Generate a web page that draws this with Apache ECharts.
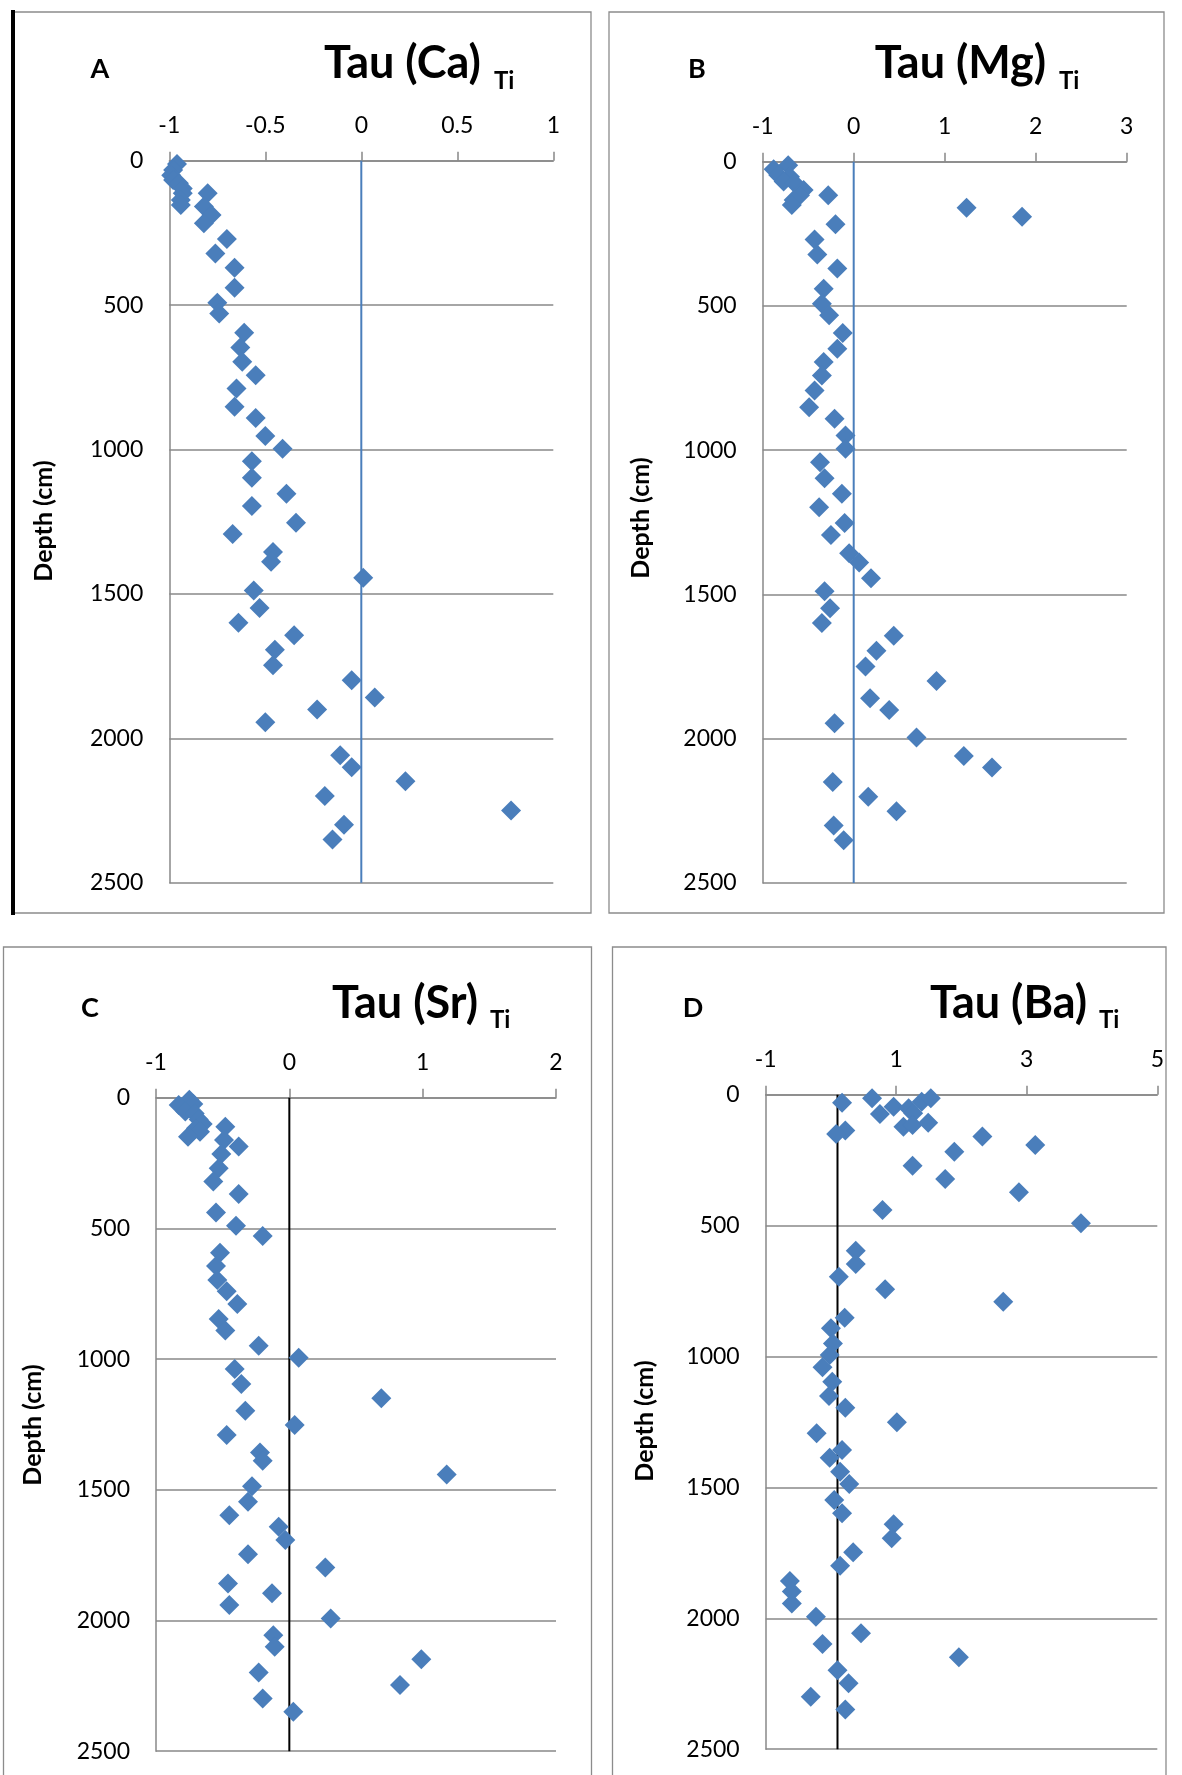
<!DOCTYPE html>
<html>
<head>
<meta charset="utf-8">
<script src="https://cdn.jsdelivr.net/npm/echarts@6/dist/echarts.min.js"></script>
<style>
html,body{margin:0;padding:0;background:#fff;}
#main{width:1182px;height:1775px;}
</style>
</head>
<body>
<div id="main"></div>
<script>
// ---- Data ----
const panelLetters = ['A', 'B', 'C', 'D'];
const panelElements = ['Ca', 'Mg', 'Sr', 'Ba'];
const depthTicks = [0, 500, 1000, 1500, 2000, 2500];
const tauTicksA = [-1, -0.5, 0, 0.5, 1];
const tauTicksB = [-1, 0, 1, 2, 3];
const tauTicksC = [-1, 0, 1, 2];
const tauTicksD = [-1, 1, 3, 5];
const refLineX = [0, 0, 0, 0.1];

const tauA = [-0.96,-0.98,-0.99,-0.98,-0.95,-0.93,-0.93,-0.94,-0.94,-0.80,-0.82,-0.78,-0.82,-0.70,-0.76,-0.66,-0.66,-0.75,-0.74,-0.61,-0.63,-0.62,-0.55,-0.65,-0.66,-0.55,-0.50,-0.41,-0.57,-0.57,-0.39,-0.57,-0.34,-0.67,-0.46,-0.47,0.01,-0.56,-0.53,-0.64,-0.35,-0.45,-0.46,-0.05,0.07,-0.23,-0.50,-0.11,-0.05,0.23,-0.19,0.78,-0.09,-0.15];
const depthA = [11,32,50,67,78,96,113,136,153,113,159,188,217,271,321,371,440,492,529,596,647,696,743,789,852,891,953,997,1041,1098,1153,1196,1254,1293,1355,1389,1444,1488,1549,1600,1643,1693,1747,1799,1859,1900,1944,2059,2100,2149,2200,2250,2299,2350];

const tauB = [-0.72,-0.88,-0.83,-0.70,-0.77,-0.65,-0.55,-0.59,-0.66,-0.68,-0.28,1.24,1.85,-0.20,-0.43,-0.40,-0.18,-0.33,-0.35,-0.27,-0.12,-0.18,-0.33,-0.35,-0.43,-0.49,-0.21,-0.09,-0.09,-0.37,-0.32,-0.13,-0.38,-0.10,-0.25,-0.05,0.06,0.19,-0.32,-0.26,-0.35,0.44,0.25,0.13,0.91,0.18,0.39,-0.21,0.69,1.21,1.52,-0.23,0.16,0.47,-0.22,-0.11];
const depthB = [12,26,46,52,69,75,98,116,133,150,116,160,191,217,270,322,370,440,492,532,594,648,694,741,793,851,891,949,995,1042,1097,1151,1198,1252,1294,1357,1389,1444,1489,1548,1599,1643,1695,1750,1800,1860,1900,1946,1996,2060,2100,2150,2201,2251,2301,2352];

const tauC = [-0.75,-0.72,-0.83,-0.78,-0.71,-0.68,-0.65,-0.70,-0.67,-0.76,-0.48,-0.49,-0.38,-0.51,-0.53,-0.57,-0.38,-0.55,-0.40,-0.20,-0.52,-0.55,-0.54,-0.47,-0.39,-0.53,-0.48,-0.23,0.07,-0.41,-0.36,0.69,-0.33,0.04,-0.47,-0.22,-0.20,1.18,-0.28,-0.31,-0.45,-0.08,-0.03,-0.31,0.27,-0.46,-0.13,-0.45,0.31,-0.12,-0.11,0.99,-0.23,0.83,-0.20,0.03];
const depthC = [8,24,28,53,60,83,101,117,130,149,111,162,187,215,270,321,368,439,490,529,593,644,697,740,789,847,891,949,995,1038,1095,1150,1198,1252,1290,1357,1389,1441,1486,1546,1597,1641,1692,1747,1797,1858,1896,1941,1992,2056,2100,2148,2199,2247,2298,2349];

const tauD = [0.17,0.63,0.96,0.75,1.19,1.39,1.53,1.26,1.11,1.25,1.49,0.22,0.08,2.32,3.13,1.89,1.25,1.75,2.88,0.79,3.83,0.38,0.38,0.12,0.83,2.64,0.21,0.00,0.03,-0.02,-0.13,0.02,-0.03,0.22,1.01,-0.22,0.17,-0.02,0.14,0.28,0.05,0.17,0.96,0.93,0.34,0.14,-0.63,-0.60,-0.60,-0.23,0.46,-0.13,1.96,0.10,0.27,-0.31,0.22];
const depthD = [31,14,46,74,52,27,14,71,122,116,107,137,150,160,192,218,271,322,373,440,491,596,647,695,743,791,852,892,950,994,1041,1096,1151,1196,1251,1293,1357,1387,1440,1487,1548,1599,1641,1694,1748,1799,1858,1898,1943,1994,2057,2098,2149,2198,2248,2300,2348];

// ---- Layout / styles ----
const FONT = 'Lato';
const GREY = '#888888';
const MARK = '#4A7EBB';
const grids = [
  {left: 169.3, top: 160.7, width: 384, height: 722},
  {left: 762.7, top: 161.7, width: 364, height: 721.3},
  {left: 156, top: 1097.7, width: 400, height: 653.5},
  {left: 765.7, top: 1094.7, width: 391.6, height: 654.5}
];
const tauTicks = [tauTicksA, tauTicksB, tauTicksC, tauTicksD];
const taus = [tauA, tauB, tauC, tauD];
const depths = [depthA, depthB, depthC, depthD];
const refColors = ['#4A7EBB', '#4A7EBB', '#000000', '#000000'];

const xAxes = tauTicks.map((t, i) => ({
  type: 'value', gridIndex: i, position: 'top',
  min: t[0], max: t[t.length - 1],
  axisLine: {onZero: false, lineStyle: {color: GREY, width: 1.5}},
  axisTick: {show: true, length: 9, inside: false, customValues: t, lineStyle: {color: GREY, width: 1.5}},
  axisLabel: {customValues: t, margin: 24, color: '#000', fontFamily: FONT, fontSize: 23,
    formatter: v => String(v)},
  splitLine: {show: false}
}));
const yAxes = grids.map((g, i) => ({
  type: 'value', gridIndex: i, inverse: true,
  min: depthTicks[0], max: depthTicks[depthTicks.length - 1], interval: 500,
  axisLine: {show: true, onZero: false, lineStyle: {color: GREY, width: 1.5}},
  axisTick: {show: false},
  axisLabel: {margin: 26, color: '#000', fontFamily: FONT, fontSize: 23,
    formatter: v => String(v)},
  splitLine: {show: true, lineStyle: {color: GREY, width: 1.5}}
}));

const series = [];
for (let i = 0; i < 4; i++) {
  series.push({
    type: 'line', xAxisIndex: i, yAxisIndex: i, z: 1,
    data: [[refLineX[i], depthTicks[0]], [refLineX[i], depthTicks[depthTicks.length - 1]]],
    symbol: 'none', silent: true,
    lineStyle: {color: refColors[i], width: 2}
  });
  series.push({
    type: 'scatter', xAxisIndex: i, yAxisIndex: i, z: 3,
    data: taus[i].map((v, k) => [v, depths[i][k]]),
    symbol: 'diamond', symbolSize: 20,
    itemStyle: {color: MARK, opacity: 1}
  });
}

// panel frames and texts
const frames = [
  {x: 13, y: 12, w: 578, h: 901},
  {x: 609, y: 12, w: 555, h: 901},
  {x: 3.5, y: 947, w: 588, h: 840},
  {x: 612.5, y: 947, w: 553.5, h: 840}
];
const letterPos = [[100, 69], [697, 69], [90, 1008], [693, 1008]];
const titleCenter = [[402.5, 63], [960.5, 63], [405, 1003], [1008.5, 1003]];
const subLeft = [[494, 81.5], [1059, 81.5], [490, 1020.5], [1099, 1020.5]];
const depthPos = [[44, 521], [641, 518], [33, 1425], [645, 1421]];

const graphic = [];
frames.forEach(f => graphic.push({
  type: 'rect', shape: {x: f.x, y: f.y, width: f.w, height: f.h},
  style: {fill: 'none', stroke: '#8C8C8C', lineWidth: 1.3}, z: 0
}));
graphic.push({type: 'line', shape: {x1: 13, y1: 10, x2: 13, y2: 915}, style: {stroke: '#000', lineWidth: 4}});
for (let i = 0; i < 4; i++) {
  graphic.push({type: 'text', x: letterPos[i][0], y: letterPos[i][1],
    style: {text: panelLetters[i], fontFamily: FONT, fontWeight: 'bold', fontSize: 27, fill: '#000', align: 'center', verticalAlign: 'middle'}});
  graphic.push({type: 'text', x: titleCenter[i][0], y: titleCenter[i][1],
    style: {text: 'Tau (' + panelElements[i] + ')', fontFamily: FONT, fontWeight: 'bold', fontSize: 45, fill: '#000', align: 'center', verticalAlign: 'middle'}});
  graphic.push({type: 'text', x: subLeft[i][0], y: subLeft[i][1],
    style: {text: 'Ti', fontFamily: FONT, fontWeight: 'bold', fontSize: 24, fill: '#000', align: 'left', verticalAlign: 'middle'}});
  graphic.push({type: 'text', x: depthPos[i][0], y: depthPos[i][1], rotation: Math.PI / 2,
    style: {text: 'Depth (cm)', fontFamily: FONT, fontWeight: 'bold', fontSize: 25, fill: '#000', align: 'center', verticalAlign: 'middle'}});
}

const chart = echarts.init(document.getElementById('main'), null, {renderer: 'canvas'});
chart.setOption({
  animation: false,
  backgroundColor: '#fff',
  grid: grids.map(g => Object.assign({containLabel: false}, g)),
  xAxis: xAxes,
  yAxis: yAxes,
  series: series,
  graphic: graphic
});
</script>
</body>
</html>
